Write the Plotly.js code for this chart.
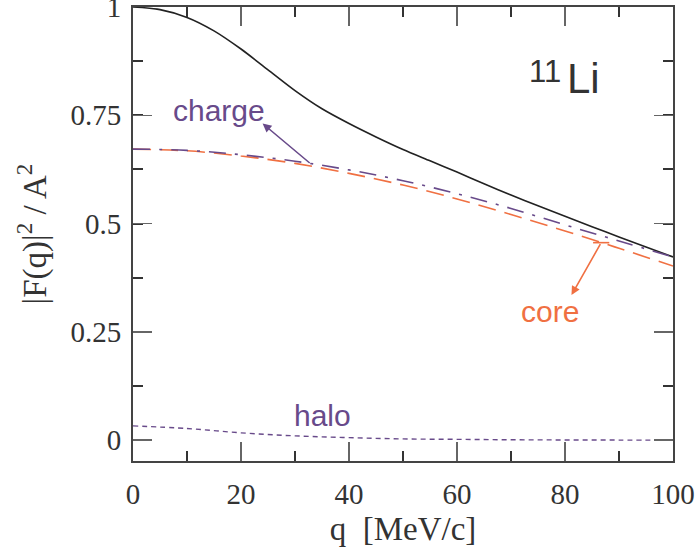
<!DOCTYPE html>
<html>
<head>
<meta charset="utf-8">
<script src="https://cdn.plot.ly/plotly-3.0.1.min.js"></script>
<style>html,body{margin:0;padding:0;background:#fff;}#chart{width:699px;height:554px;}</style>
</head>
<body>
<div id="chart"></div>
<script>
// q values [MeV/c]
const qTotal = [0, 5, 10, 15, 20, 25, 30, 35, 40, 45, 50, 55, 60, 65, 70, 75, 80, 85, 90, 95, 100];
const total  = [1.0, 0.994, 0.976, 0.945, 0.903, 0.855, 0.807, 0.765, 0.731, 0.700, 0.671, 0.645, 0.619, 0.592, 0.566, 0.541, 0.517, 0.493, 0.469, 0.446, 0.423];

const qCurve = [0, 10, 20, 30, 40, 50, 60, 70, 80, 90, 100];
const charge = [0.672, 0.669, 0.659, 0.644, 0.624, 0.599, 0.569, 0.535, 0.497, 0.460, 0.423];
const core   = [0.672, 0.668, 0.656, 0.639, 0.616, 0.589, 0.557, 0.521, 0.483, 0.443, 0.402];
const halo   = [0.033, 0.027, 0.017, 0.010, 0.006, 0.003, 0.002, 0.001, 0.0006, 0.0003, 0.0002];

const xTickVals = [0, 20, 40, 60, 80, 100];
const xTickText = ['0', '20', '40', '60', '80', '100'];
const yTickVals = [0, 0.25, 0.5, 0.75, 1];
const yTickText = ['0', '0.25', '0.5', '0.75', '1'];

const PURPLE = '#684a8a';
const ORANGE = '#f07042';
const TEXT = '#333333';
const SERIF = 'Liberation Serif, Times New Roman, serif';
const SANS = 'Liberation Sans, Arial, sans-serif';

const traces = [
  {x: qTotal, y: total, mode: 'lines', line: {color: '#222222', width: 1.6, shape: 'spline', smoothing: 0.8}, name: 'total'},
  {x: qCurve, y: core, mode: 'lines', line: {color: ORANGE, width: 1.6, dash: '18px,9px', shape: 'spline'}, name: 'core'},
  {x: qCurve, y: charge, mode: 'lines', line: {color: PURPLE, width: 1.6, dash: '17px,9px,3px,9px', shape: 'spline'}, name: 'charge'},
  {x: qCurve, y: halo, mode: 'lines', line: {color: PURPLE, width: 1.4, dash: '5px,4px', shape: 'spline'}, name: 'halo'}
];

const axisCommon = {
  showgrid: false, zeroline: false, showline: true, linecolor: '#444', linewidth: 2,
  mirror: 'ticks', ticks: 'inside', ticklen: 19, tickwidth: 1.5, tickcolor: '#666',
  tickfont: {family: SERIF, size: 29, color: TEXT},
  ticklabeloverflow: 'allow',
  minor: {ticks: 'inside', ticklen: 10, tickwidth: 2, tickcolor: '#333'}
};

const layout = {
  width: 699, height: 554,
  margin: {l: 133, r: 26, t: 7, b: 93},
  paper_bgcolor: '#fff', plot_bgcolor: '#fff',
  showlegend: false,
  xaxis: Object.assign({}, axisCommon, {
    range: [0, 100], tickmode: 'array', tickvals: xTickVals, ticktext: xTickText,
    minor: Object.assign({}, axisCommon.minor, {dtick: 10, tick0: 0}),
    ticklabelstandoff: 6,
    title: {text: 'q\u00a0 [MeV/c]', font: {family: SERIF, size: 33, color: TEXT}, standoff: 8}
  }),
  yaxis: Object.assign({}, axisCommon, {
    range: [-0.048, 1.0], tickmode: 'array', tickvals: yTickVals, ticktext: yTickText,
    minor: Object.assign({}, axisCommon.minor, {dtick: 0.125, tick0: 0}),
    ticklabelstandoff: 4,
    title: {text: '|F(q)|<sup>2</sup> / A<sup>2</sup>', font: {family: SERIF, size: 33, color: TEXT}, standoff: 14}
  }),
  annotations: [
    {x: 16.0, y: 0.762, xref: 'x', yref: 'y', text: 'charge', showarrow: false,
     font: {family: SANS, size: 30, color: PURPLE}},
    {x: 24, y: 0.731, ax: 33, ay: 0.637, xref: 'x', yref: 'y', axref: 'x', ayref: 'y',
     text: '', showarrow: true, arrowhead: 2, arrowsize: 1.1, arrowwidth: 1.6, arrowcolor: PURPLE},
    {x: 77.3, y: 0.297, xref: 'x', yref: 'y', text: 'core', showarrow: false,
     font: {family: SANS, size: 30, color: ORANGE}},
    {x: 81.2, y: 0.335, ax: 86.7, ay: 0.456, xref: 'x', yref: 'y', axref: 'x', ayref: 'y',
     text: '', showarrow: true, arrowhead: 2, arrowsize: 1.1, arrowwidth: 1.6, arrowcolor: ORANGE},
    {x: 35.0, y: 0.058, xref: 'x', yref: 'y', text: 'halo', showarrow: false,
     font: {family: SANS, size: 30, color: PURPLE}},
    {x: 76.3, y: 0.850, xref: 'x', yref: 'y', text: '11', showarrow: false, borderpad: 0,
     font: {family: SANS, size: 31, color: TEXT}},
    {x: 83.4, y: 0.836, xref: 'x', yref: 'y', text: 'Li', showarrow: false, borderpad: 0,
     font: {family: SANS, size: 42, color: TEXT}}
  ],
  shapes: [
    {type: 'line', xref: 'x', yref: 'y', x0: 85.2, x1: 88.2, y0: 0.456, y1: 0.456,
     line: {color: ORANGE, width: 1.6}}
  ]
};

Plotly.newPlot('chart', traces, layout, {staticPlot: true, displayModeBar: false});
</script>
</body>
</html>
